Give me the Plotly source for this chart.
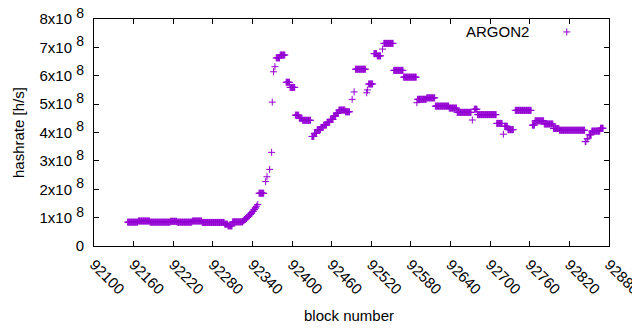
import numpy as np
import plotly.graph_objects as go

# Runs of consecutive blocks sharing one hashrate value
run_start = [92151, 92167, 92185, 92216, 92226, 92249, 92264, 92298, 92303, 92310,
             92326, 92328, 92330, 92332, 92334, 92336, 92338, 92340, 92342, 92344,
             92346, 92348, 92350, 92360, 92362, 92366, 92369, 92370, 92372, 92374,
             92376, 92382, 92391, 92397, 92405, 92411, 92416, 92430, 92434, 92438,
             92444, 92448, 92453, 92458, 92463, 92467, 92471, 92481, 92491, 92494,
             92496, 92513, 92514, 92516, 92524, 92529, 92537, 92539, 92554, 92569,
             92589, 92590, 92604, 92617, 92638, 92650, 92673, 92676, 92681, 92710,
             92720, 92722, 92727, 92738, 92764, 92768, 92782, 92796, 92805, 92844,
             92847, 92850, 92854, 92867]
run_stop = [92166, 92184, 92215, 92225, 92248, 92263, 92297, 92302, 92309, 92325,
            92327, 92329, 92331, 92333, 92335, 92337, 92339, 92341, 92343, 92345,
            92346, 92348, 92357, 92360, 92362, 92366, 92369, 92370, 92372, 92374,
            92381, 92389, 92396, 92404, 92410, 92415, 92428, 92433, 92437, 92443,
            92447, 92452, 92457, 92462, 92466, 92470, 92480, 92487, 92491, 92494,
            92511, 92513, 92514, 92522, 92528, 92534, 92537, 92553, 92568, 92588,
            92589, 92603, 92616, 92637, 92649, 92671, 92673, 92680, 92709, 92718,
            92720, 92726, 92735, 92762, 92767, 92781, 92795, 92804, 92843, 92845,
            92848, 92853, 92866, 92871]
# hashrate in units of 1e8 h/s
run_value = [0.84, 0.88, 0.84, 0.87, 0.84, 0.88, 0.83, 0.77, 0.71, 0.85,
             0.89, 0.93, 0.97, 1.02, 1.06, 1.11, 1.16, 1.22, 1.28, 1.34,
             1.40, 1.46, 1.86, 2.27, 2.44, 2.70, 3.30, 5.07, 6.14, 6.32,
             6.63, 6.73, 5.77, 5.59, 4.61, 4.50, 4.43, 3.86, 3.97, 4.10,
             4.18, 4.26, 4.36, 4.46, 4.58, 4.68, 4.79, 4.73, 5.17, 5.43,
             6.23, 5.40, 5.50, 5.71, 6.78, 6.70, 6.94, 7.14, 6.19, 5.95,
             5.05, 5.17, 5.22, 4.93, 4.86, 4.71, 4.44, 4.82, 4.63, 4.32,
             3.94, 4.22, 4.10, 4.78, 4.26, 4.41, 4.30, 4.14, 4.08, 3.68,
             3.78, 3.92, 4.05, 4.15]

x_tick_vals = [92100, 92160, 92220, 92280, 92340, 92400, 92460, 92520,
               92580, 92640, 92700, 92760, 92820, 92880]
x_tick_text = [str(v) for v in x_tick_vals]
y_tick_vals = [0, 1e8, 2e8, 3e8, 4e8, 5e8, 6e8, 7e8, 8e8]
y_tick_text = ["0"] + [f"{i}x10 <sup><span style='font-size:14px'>8</span></sup>"
                       for i in range(1, 9)]

blocks, hashrate = [], []
for s, e, v in zip(run_start, run_stop, run_value):
    for b in range(s, e + 1):
        blocks.append(b)
        hashrate.append(v * 1e8)

PURPLE = "#9400d3"
FONT = "Liberation Sans, Arial, sans-serif"

fig = go.Figure()
fig.add_trace(go.Scatter(
    x=blocks, y=hashrate, mode="markers", name="ARGON2", showlegend=False,
    marker=dict(symbol="cross-thin", size=5, line=dict(color=PURPLE, width=1), color=PURPLE),
))
# legend sample marker on a hidden overlay axis
fig.add_trace(go.Scatter(
    x=[0.918], y=[0.943], xaxis="x2", yaxis="y2", mode="markers", showlegend=False,
    marker=dict(symbol="cross-thin", size=5, line=dict(color=PURPLE, width=1), color=PURPLE),
    hoverinfo="skip",
))

axis_common = dict(showline=True, linecolor="black", linewidth=1, mirror="ticks",
                   ticks="inside", ticklen=5, tickcolor="black", showgrid=False,
                   zeroline=False, automargin=False, ticklabeloverflow="allow",
                   tickfont=dict(family=FONT, size=15, color="black"))

# page body has an 8px default margin: figure is sized to fit the 640x330 window
fig.update_layout(
    width=632, height=322,
    margin=dict(l=86, r=31, t=11, b=84),
    paper_bgcolor="white", plot_bgcolor="white",
    font=dict(family=FONT, size=15, color="black"),
    xaxis=dict(range=[92100, 92880], tickvals=x_tick_vals, ticktext=x_tick_text,
               tickangle=45, ticklabelstandoff=3, **axis_common),
    yaxis=dict(range=[0, 8e8], tickvals=y_tick_vals, ticktext=y_tick_text,
               ticklabelstandoff=6, **axis_common),
    xaxis2=dict(overlaying="x", range=[0, 1], visible=False),
    yaxis2=dict(overlaying="y", range=[0, 1], visible=False),
    annotations=[
        dict(text="ARGON2", x=0.849, y=0.943, xref="paper", yref="paper",
             xanchor="right", yanchor="middle", showarrow=False,
             font=dict(family=FONT, size=15, color="black")),
        dict(text="block number", x=0.495, y=-0.308, xref="paper", yref="paper",
             xanchor="center", yanchor="middle", showarrow=False,
             font=dict(family=FONT, size=15, color="black")),
        dict(text="hashrate [h/s]", x=-0.1476, y=0.502, xref="paper", yref="paper",
             xanchor="center", yanchor="middle", showarrow=False, textangle=-90,
             font=dict(family=FONT, size=15, color="black")),
    ],
)

fig.write_html("out.html")
